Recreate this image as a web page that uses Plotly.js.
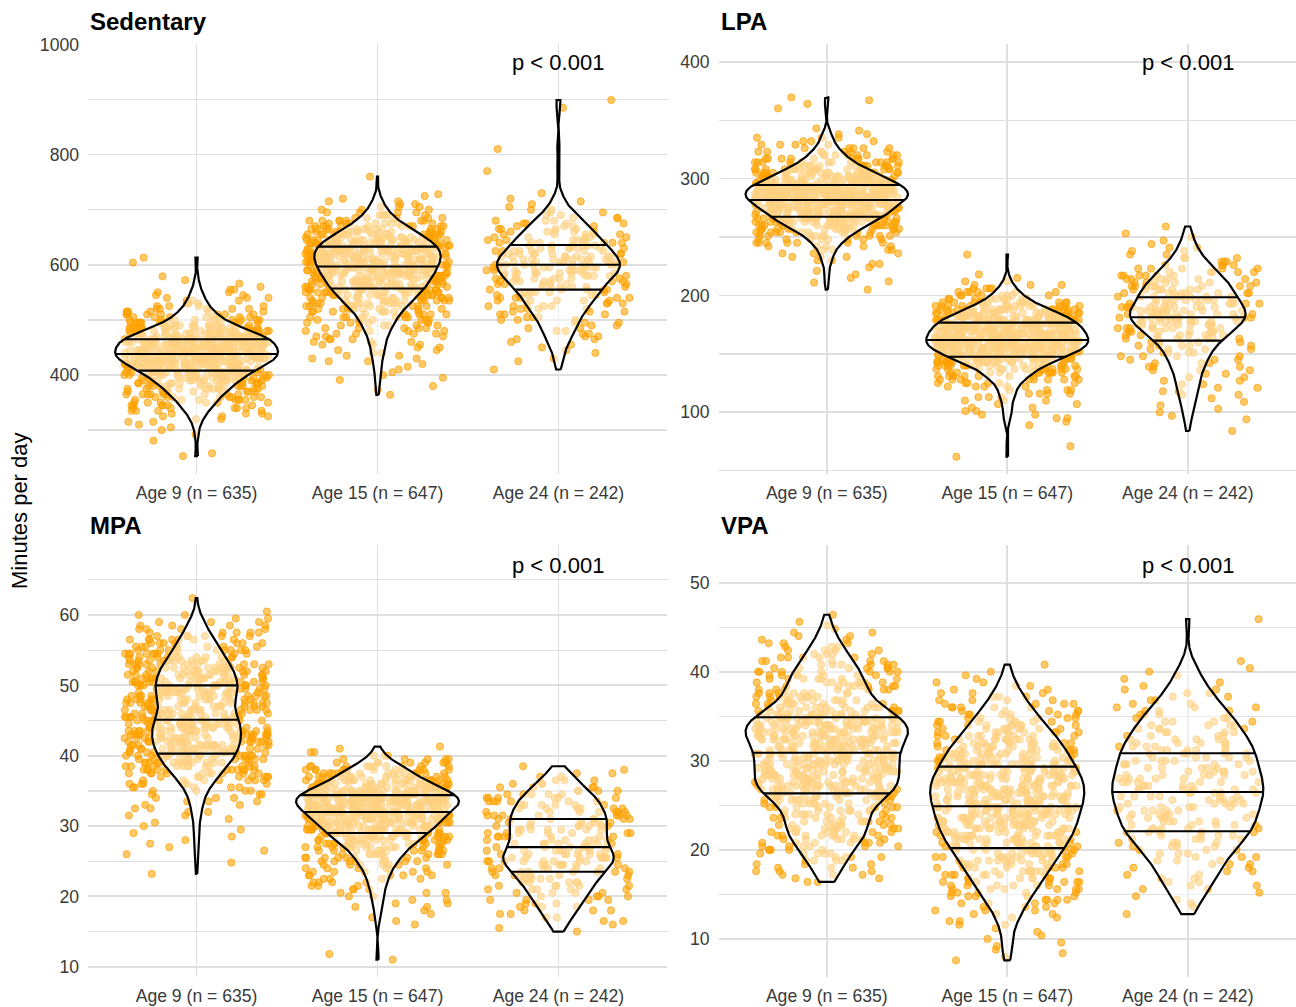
<!DOCTYPE html>
<html>
<head>
<meta charset="utf-8">
<script src="https://cdn.plot.ly/plotly-3.0.1.min.js"></script>
<style>
html, body { margin: 0; padding: 0; background: #ffffff; }
#chart { width: 1296px; height: 1007px; }
</style>
</head>
<body>
<div id="chart"></div>
<script>
// ------------------------------------------------------------------
// DATA
// ------------------------------------------------------------------
const categories = ["Age 9 (n = 635)", "Age 15 (n = 647)", "Age 24 (n = 242)"];
const panelTitles = ["Sedentary", "LPA", "MPA", "VPA"];
const pValueText = "p < 0.001";
const yAxisTitle = "Minutes per day";

// Each group: number of points per value bin (bin value = start + i*step),
// plus individual outlying values.
// Sedentary (minutes per day)
const sedBinStep = 5;
const sed9Start = 300;
const sed9Counts = [1,1,1,2,2, 3,3,4,5,6, 6,7,8,9,10, 11,12,13,14,16, 17,18,20,21,24, 26,26,27,28,27, 27,26,26,25,23, 20,18,16,13,11, 9,8,7,6,5, 4,4,3,3,2, 2,2,1];
const sed9Extra = [253, 258, 281, 292, 566, 572, 579, 604, 613];
const sed15Start = 395;
const sed15Counts = [1,1,1,1,1,1, 2,2,2,2,2,2, 3,3,3,3, 4,4,5,5, 6,6,7,7, 8,9,10,11, 12,12,14,15, 16,16,17,17, 18,19,19,20, 20,21,21,21, 22,22,21,21, 20,19,18,16, 15,13,11,10, 8,7,6,5, 4,3,3,2, 2,1,1];
const sed15Extra = [364, 373, 380, 391, 728, 760];
const sed24Start = 410;
const sed24Counts = [1,0,0,1,1,0,1,1,1,1, 1,2,2,2,2,2,2,3,3,3, 3,3,4,4,4,5,5,5,5,5, 6,6,7,7,7,8,8,8,9,8, 8,8,7,7,7,6,6,6,5,5, 5,4,4,4,3,3,2,2,2,1, 1,1,1];
const sed24Extra = [730, 770, 810, 885, 899];
const sedQuartiles = [[408, 438, 465], [557, 597, 633], [555, 600, 636]];

// LPA (minutes per day)
const lpaBinStep = 3;
const lpa9Start = 215;
const lpa9Counts = [1,1,1,1,2,2,3,3,4,5,7,8,10,13,15,18,21,25,26,28,30,32,35,36,37,36,34,32,28,25,21,18,15,12,10,8,7,5,4,3,3,2,1];
const lpa9Extra = [205, 211, 212, 343, 360, 364, 367, 369.5];
const lpa15Start = 89;
const lpa15Counts = [1,1,2,2,2,2,2,3,3,4,4,5,6,8,10,12,14,17,21,25,29,32,35,37,37,37,36,35,34,32,30,27,24,19,16,12,10,7,6,4,3,2,1,1];
const lpa15Extra = [62, 71, 235];
const lpa24Start = 94;
const lpa24Counts = [1,1,1,1,1,1,1,2,2,2,2,2,2,2,3,3,3,3,4,4,4,5,5,6,7,8,8,9,10,11,10,10,10,9,9,8,8,8,8,7,6,6,5,5,4,3,3,2,2,2,1,1,1,1,0,1];
const lpa24Extra = [84];
const lpaQuartiles = [[267.4, 281.7, 294.5], [147.6, 161.9, 176.7], [161.3, 181.3, 198.4]];

// MPA (minutes per day)
const mpaBinStep = 0.5;
const mpa9Start = 26;
const mpa9Counts = [1,1,1,1,1,1,1,1,1,1,1, 2,2,2,2, 3,3,3, 4,5,6,7,8, 10,11,12,13,14,15, 15,16,17,17,17,17,17,17,17, 16,16,15,14,13, 14,15,15,16,16,16,16, 15,15,14,14,13, 12,11,10,9,8, 7,7,6,5,4, 4,3,2,2,1];
const mpa9Extra = [23.2, 24.8, 62.4];
const mpa15Start = 16;
const mpa15Counts = [1,1,1,1,1, 2,2,2,2, 3,3,3, 4,4,5,5, 6,7,8,9, 10,11,13,14, 16,18,20,21, 23,24,25,27, 29,30,32,33, 32,31,28,24, 21,19,16,14, 12,10,7,5, 3,2,1];
const mpa15Extra = [11.0, 11.8, 41.3];
const mpa24Start = 15;
const mpa24Counts = [1,1,1,2,2,2,3,3,3,4,4,4,5,5,5,6,6,7,7,8,8,9,8,8,7,7,6,7,7,7,7,7,7,7,7,6,6,6,6,5,4,4,3,3,2,2,1,1];
const mpa24Extra = [];
const mpaQuartiles = [[40.3, 45.1, 50.0], [29.0, 32.0, 34.4], [23.5, 27.0, 31.0]];

// VPA (minutes per day)
const vpaBinStep = 0.4;
const vpa9Start = 16.4;
const vpa9Counts = [2,2,3,3,3,3, 4,4,5,5, 6,7,7,8, 8,8,8,8, 8,8,9,9, 9,10,12,14, 14,14,14,14, 15,14,14,14, 14,14,14,14, 14,15,16,16, 17,17,16,16, 15,14,12,11, 10,9,8,8, 8,8,8,7, 7,7,6,6, 5,5,4,4, 3,3,2,2, 2,1,1,1, 0,1];
const vpa9Extra = [];
const vpa15Start = 7.6;
const vpa15Counts = [1,1,1,1,1,1,1,1,1,1, 2,2,2, 3,3,3, 4,4, 5,5, 6,6, 7,7,7, 8,9,9, 9,10,10, 11,11,12, 12,13,13, 13,13,14, 14,14,14, 14,15,15, 15,15,15,15, 15,15,14, 14,13,13, 13,12,12, 11,11,11, 10,9,9, 8,8,7, 6,6,5, 5,4,4, 3,3,2, 2,2,1, 1,1,0,1];
const vpa15Extra = [];
const vpa24Start = 12.8;
const vpa24Counts = [1,0,1,1,1,1,1, 2,2,2,2,2,2,2, 3,3,3,3,3, 4,4,4,4, 5,5,5,5,5,5,5,5,5, 6,6,5,6,5,6,5,6, 5,5,5,5,5,5,5,5,5, 4,4,4,4,4,4, 3,3,3,3, 2,2,2,2,2, 1,1,1,1,1,1, 0,1,0];
const vpa24Extra = [45.9];
const vpaQuartiles = [[26.35, 30.9, 34.9], [20.2, 24.9, 29.35], [22.1, 26.5, 30.85]];

// ------------------------------------------------------------------
// LAYOUT / STYLE
// ------------------------------------------------------------------
const W = 1296, H = 1007;
const FONT = '"Liberation Sans", Arial, Helvetica, sans-serif';
const colPx = [[88, 667], [718.5, 1296]];
const rowPx = [[43.5, 474], [545, 977]];
const gridColor = '#DFDFDF';
const pointFill = 'rgba(255,165,0,0.6)';
const pointEdge = 'rgba(250,155,0,0.65)';
const violinFill = 'rgba(255,255,255,0.5)';
const jitterWidth = 0.4;
const violinHalfWidth = 0.45;
const bandwidthAdjust = 0.7;
const tickColor = '#3A3A3A';

const panels = [
  { title: panelTitles[0], col: 0, row: 0, range: [220.4, 1001.5], dtick: 200, minor: 100, quartiles: sedQuartiles,
    groups: [[sed9Start, sedBinStep, sed9Counts, sed9Extra], [sed15Start, sedBinStep, sed15Counts, sed15Extra], [sed24Start, sedBinStep, sed24Counts, sed24Extra]] },
  { title: panelTitles[1], col: 1, row: 0, range: [47.2, 415.6], dtick: 100, minor: 50, quartiles: lpaQuartiles,
    groups: [[lpa9Start, lpaBinStep, lpa9Counts, lpa9Extra], [lpa15Start, lpaBinStep, lpa15Counts, lpa15Extra], [lpa24Start, lpaBinStep, lpa24Counts, lpa24Extra]] },
  { title: panelTitles[2], col: 0, row: 1, range: [8.54, 69.95], dtick: 10, minor: 5, quartiles: mpaQuartiles,
    groups: [[mpa9Start, mpaBinStep, mpa9Counts, mpa9Extra], [mpa15Start, mpaBinStep, mpa15Counts, mpa15Extra], [mpa24Start, mpaBinStep, mpa24Counts, mpa24Extra]] },
  { title: panelTitles[3], col: 1, row: 1, range: [5.73, 54.23], dtick: 10, minor: 5, quartiles: vpaQuartiles,
    groups: [[vpa9Start, vpaBinStep, vpa9Counts, vpa9Extra], [vpa15Start, vpaBinStep, vpa15Counts, vpa15Extra], [vpa24Start, vpaBinStep, vpa24Counts, vpa24Extra]] }
];

// ------------------------------------------------------------------
// HELPERS
// ------------------------------------------------------------------
function expandGroup(g) {
  const [start, step, counts, extra] = g;
  const v = [];
  counts.forEach((c, i) => {
    const y = Math.round((start + i * step) * 1000) / 1000;
    for (let k = 0; k < c; k++) v.push(y);
  });
  extra.forEach(e => v.push(e));
  return v.sort((a, b) => a - b);
}
function quantile(s, p) {
  const h = (s.length - 1) * p, lo = Math.floor(h);
  const hi = Math.min(lo + 1, s.length - 1);
  return s[lo] + (h - lo) * (s[hi] - s[lo]);
}
function bwNrd0(s) {
  const n = s.length;
  const mean = s.reduce((a, b) => a + b, 0) / n;
  const sd = Math.sqrt(s.reduce((a, b) => a + (b - mean) * (b - mean), 0) / (n - 1));
  const iqr = quantile(s, 0.75) - quantile(s, 0.25);
  const lo = Math.min(sd, iqr / 1.34) || sd || 1;
  return 0.9 * lo * Math.pow(n, -0.2);
}
function kde(s, bw) {
  const n = s.length, lo = s[0], hi = s[n - 1], m = 512;
  const ys = [], ds = [];
  const norm = 1 / (n * bw * Math.sqrt(2 * Math.PI));
  for (let i = 0; i < m; i++) {
    const y = lo + (hi - lo) * i / (m - 1);
    let d = 0;
    for (let j = 0; j < n; j++) { const z = (y - s[j]) / bw; d += Math.exp(-0.5 * z * z); }
    ys.push(y); ds.push(d * norm);
  }
  return { y: ys, d: ds };
}
function densAt(k, q) {
  const ys = k.y;
  if (q <= ys[0]) return k.d[0];
  if (q >= ys[ys.length - 1]) return k.d[ys.length - 1];
  for (let i = 1; i < ys.length; i++) {
    if (ys[i] >= q) { const t = (q - ys[i - 1]) / (ys[i] - ys[i - 1]); return k.d[i - 1] + t * (k.d[i] - k.d[i - 1]); }
  }
  return 0;
}
// deterministic jitter generator (horizontal spread only)
function jitterGen(seed) {
  let a = seed >>> 0;
  return function () {
    a = (a + 0x6D2B79F5) >>> 0;
    let t = a;
    t = Math.imul(t ^ (t >>> 15), t | 1);
    t ^= t + Math.imul(t ^ (t >>> 7), t | 61);
    return ((t ^ (t >>> 14)) >>> 0) / 4294967296;
  };
}

// ------------------------------------------------------------------
// TRACES & LAYOUT
// ------------------------------------------------------------------
const traces = [];
const layout = {
  width: W, height: H,
  margin: { l: 0, r: 0, t: 0, b: 0, pad: 0 },
  paper_bgcolor: '#ffffff', plot_bgcolor: '#ffffff',
  showlegend: false, hovermode: false,
  font: { family: FONT, color: '#000000' },
  annotations: []
};

panels.forEach((p, pi) => {
  const suffix = pi === 0 ? '' : String(pi + 1);
  const xa = 'x' + suffix, ya = 'y' + suffix;
  const values = p.groups.map(expandGroup);
  const dens = values.map(v => kde(v, bwNrd0(v) * bandwidthAdjust));
  const maxD = Math.max(...dens.map(k => Math.max(...k.d)));

  // jittered points
  values.forEach((v, gi) => {
    const rnd = jitterGen(7919 * (pi + 1) + 104729 * (gi + 1));
    traces.push({
      type: 'scatter', mode: 'markers', xaxis: xa, yaxis: ya,
      x: v.map(() => gi + (rnd() * 2 - 1) * jitterWidth), y: v,
      marker: { size: 7.2, color: pointFill, line: { color: pointEdge, width: 1 } },
      hoverinfo: 'skip', showlegend: false
    });
  });
  // violins + quartile lines
  dens.forEach((k, gi) => {
    const xs = [], ys = [];
    for (let i = 0; i < k.y.length; i++) { xs.push(gi + violinHalfWidth * k.d[i] / maxD); ys.push(k.y[i]); }
    for (let i = k.y.length - 1; i >= 0; i--) { xs.push(gi - violinHalfWidth * k.d[i] / maxD); ys.push(k.y[i]); }
    xs.push(xs[0]); ys.push(ys[0]);
    traces.push({
      type: 'scatter', mode: 'lines', xaxis: xa, yaxis: ya, x: xs, y: ys,
      fill: 'toself', fillcolor: violinFill, line: { color: '#000000', width: 2.2 },
      hoverinfo: 'skip', showlegend: false
    });
    const qx = [], qy = [];
    p.quartiles[gi].forEach(q => {
      const w = violinHalfWidth * densAt(k, q) / maxD;
      qx.push(gi - w, gi + w, null); qy.push(q, q, null);
    });
    traces.push({
      type: 'scatter', mode: 'lines', xaxis: xa, yaxis: ya, x: qx, y: qy,
      line: { color: '#000000', width: 2.1 }, hoverinfo: 'skip', showlegend: false
    });
  });

  const xd = [colPx[p.col][0] / W, colPx[p.col][1] / W];
  const yd = [1 - rowPx[p.row][1] / H, 1 - rowPx[p.row][0] / H];
  layout['xaxis' + suffix] = {
    domain: xd, anchor: ya, range: [-0.6, 2.6], fixedrange: true,
    tickmode: 'array', tickvals: [0, 1, 2], ticktext: categories,
    showgrid: true, gridcolor: gridColor, gridwidth: 1.8,
    zeroline: false, showline: false, ticks: '', ticklabelstandoff: 6,
    tickfont: { family: FONT, size: 17.6, color: tickColor }, automargin: false
  };
  layout['yaxis' + suffix] = {
    domain: yd, anchor: xa, range: p.range, fixedrange: true,
    tickmode: 'linear', tick0: 0, dtick: p.dtick,
    minor: { tick0: 0, dtick: p.minor, showgrid: true, gridcolor: gridColor, gridwidth: 1.3, ticks: '' },
    showgrid: true, gridcolor: gridColor, gridwidth: 1.8,
    zeroline: false, showline: false, ticks: '', ticklabelstandoff: 8,
    tickfont: { family: FONT, size: 17.6, color: tickColor }, automargin: false
  };
  // panel title
  layout.annotations.push({
    xref: 'paper', yref: 'paper', x: colPx[p.col][0] / W, y: 1 - (p.row === 0 ? 21.5 : 525) / H,
    xanchor: 'left', yanchor: 'middle', showarrow: false,
    text: '<b>' + p.title + '</b>', font: { family: FONT, size: 24, color: '#000000' }
  });
  // p value
  layout.annotations.push({
    xref: xa, yref: 'paper', x: 2, y: 1 - (p.row === 0 ? 62.5 : 565.7) / H,
    xanchor: 'center', yanchor: 'middle', showarrow: false,
    text: pValueText, font: { family: FONT, size: 22, color: '#000000' }
  });
});

layout.annotations.push({
  xref: 'paper', yref: 'paper', x: 19.5 / W, y: 1 - 510.5 / H,
  xanchor: 'center', yanchor: 'middle', showarrow: false, textangle: -90,
  text: yAxisTitle, font: { family: FONT, size: 22, color: '#000000' }
});

Plotly.newPlot('chart', traces, layout, { staticPlot: true, displayModeBar: false });
</script>
</body>
</html>
